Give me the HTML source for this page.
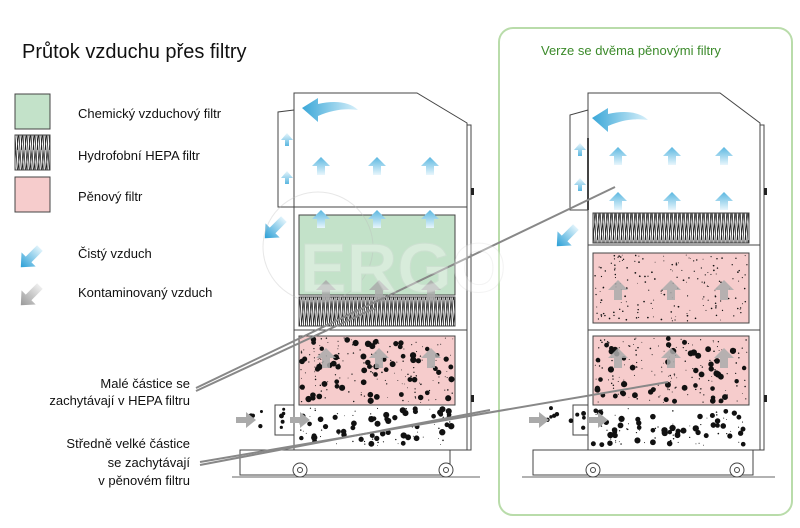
<!DOCTYPE html>
<html><head><meta charset="utf-8"><style>
body{margin:0;background:#fff;}
svg text{font-family:"Liberation Sans","DejaVu Sans",sans-serif;}
</style></head><body>
<svg id="s" width="800" height="523" viewBox="0 0 800 523" xmlns="http://www.w3.org/2000/svg">
<defs>
<pattern id="hepa" width="4" height="30" patternUnits="userSpaceOnUse">
<rect width="4" height="30" fill="#fff"/>
<path d="M0 0 L2 30 M2 0 L4 30 M4 0 L1 30" stroke="#222" stroke-width="0.8"/>
</pattern>
<linearGradient id="blue" x1="0" y1="0" x2="1" y2="0"><stop offset="0" stop-color="#3aa7d8"/><stop offset="1" stop-color="#d8f0fa"/></linearGradient>
<linearGradient id="blueV" x1="0" y1="0" x2="0" y2="1"><stop offset="0" stop-color="#5ab7e0"/><stop offset="1" stop-color="#e8f6fc"/></linearGradient>
<linearGradient id="tipB" x1="1" y1="0" x2="0" y2="0"><stop offset="0" stop-color="#2a9fd6"/><stop offset="1" stop-color="#e0f3fb"/></linearGradient>
<linearGradient id="tipG" x1="1" y1="0" x2="0" y2="0"><stop offset="0" stop-color="#999"/><stop offset="1" stop-color="#eee"/></linearGradient>
<g id="upB"><path d="M0 -9 L9 0 L4 0 L4 9 L-4 9 L-4 0 L-9 0 Z" fill="url(#blueV)"/></g>
<g id="upG"><path d="M0 -10 L10 0 L4 0 L4 10 L-4 10 L-4 0 L-10 0 Z" fill="#aaa" opacity="0.85"/></g>
<g id="rtG"><path d="M10 0 L0 -8 L0 -3 L-10 -3 L-10 3 L0 3 L0 8 Z" fill="#aaa"/></g>
<g id="dnB"><path d="M0 7 L6 0 L2 0 L2 -6 L-2 -6 L-2 0 L-6 0 Z" fill="url(#blueV)" transform="rotate(180)"/></g>
<g id="diagB"><path d="M13 0 L2 -10 L2 -4 L-14 -4 L-14 4 L2 4 L2 10 Z" fill="url(#tipB)"/></g>
<g id="diagG"><path d="M13 0 L2 -10 L2 -4 L-14 -4 L-14 4 L2 4 L2 10 Z" fill="url(#tipG)"/></g>
</defs>

<text x="22" y="58" font-size="20" fill="#111">Průtok vzduchu přes filtry</text>

<rect x="15" y="94" width="35" height="35" fill="#c3e2c9" stroke="#444"/>
<rect x="15" y="135" width="35" height="35" fill="url(#hepa)" stroke="#444"/>
<rect x="15" y="177" width="35" height="35" fill="#f6cccc" stroke="#444"/>
<text x="78" y="118" font-size="13" fill="#111">Chemický vzduchový filtr</text>
<text x="78" y="160" font-size="13" fill="#111">Hydrofobní HEPA filtr</text>
<text x="78" y="201" font-size="13" fill="#111">Pěnový filtr</text>
<text x="78" y="258" font-size="13" fill="#111">Čistý vzduch</text>
<text x="78" y="297" font-size="13" fill="#111">Kontaminovaný vzduch</text>
<use href="#diagB" transform="translate(30,258) rotate(135)"/>
<use href="#diagG" transform="translate(30,296) rotate(135)"/>

<g font-size="13" fill="#111" text-anchor="end">
<text x="190" y="388">Malé částice se</text>
<text x="190" y="405">zachytávají v HEPA filtru</text>
<text x="190" y="448">Středně velké částice</text>
<text x="190" y="467">se zachytávají</text>
<text x="190" y="485">v pěnovém filtru</text>
</g>

<rect x="499" y="28" width="293" height="487" rx="14" fill="none" stroke="#b9dcaa" stroke-width="2"/>
<text x="541" y="55" font-size="13" fill="#3b8a2a">Verze se dvěma pěnovými filtry</text>

<!-- LEFT UNIT -->
<g stroke="#444" stroke-width="1" fill="none">
<path d="M294 93 L417 93 L467 123 L467 450 L294 450 Z" fill="#fff"/>
<rect x="467" y="125" width="4" height="325" fill="#fff"/>
<path d="M294 110 L278 112 L278 207 L294 207"/>
<line x1="294" y1="207" x2="467" y2="207"/>
<rect x="299" y="215" width="156" height="80" fill="#c3e2c9"/>
<rect x="299" y="297" width="156" height="29" fill="url(#hepa)"/>
<line x1="294" y1="330" x2="467" y2="330"/>
<rect x="299" y="336" width="156" height="69" fill="#f6cccc"/>
<rect x="275" y="405" width="19" height="30" fill="#fff"/>
<rect x="240" y="450" width="210" height="25"/>
<line x1="232" y1="477" x2="480" y2="477" stroke="#666"/>
</g>
<rect x="471" y="188" width="3" height="7" fill="#222"/>
<rect x="471" y="395" width="3" height="7" fill="#222"/>
<g stroke="#444" fill="#fff"><circle cx="300" cy="470" r="7"/><circle cx="300" cy="470" r="2.5"/><circle cx="446" cy="470" r="7"/><circle cx="446" cy="470" r="2.5"/></g>

<!-- RIGHT UNIT -->
<g stroke="#444" stroke-width="1" fill="none">
<path d="M588 93 L720 93 L760 123 L760 450 L588 450 Z" fill="#fff"/>
<rect x="760" y="125" width="4" height="325" fill="#fff"/>
<path d="M588 110 L570 115 L570 210 L588 210"/>
<line x1="588" y1="138" x2="588" y2="210" stroke-width="2"/>
<rect x="593" y="213" width="156" height="30" fill="url(#hepa)"/>
<line x1="588" y1="245" x2="760" y2="245"/>
<rect x="593" y="253" width="156" height="70" fill="#f6cccc"/>
<line x1="588" y1="330" x2="760" y2="330"/>
<rect x="593" y="336" width="156" height="69" fill="#f6cccc"/>
<rect x="573" y="405" width="15" height="30" fill="#fff"/>
<rect x="533" y="450" width="220" height="25"/>
<line x1="522" y1="477" x2="775" y2="477" stroke="#666"/>
</g>
<rect x="764" y="188" width="3" height="7" fill="#222"/>
<rect x="764" y="395" width="3" height="7" fill="#222"/>
<g stroke="#444" fill="#fff"><circle cx="593" cy="470" r="7"/><circle cx="593" cy="470" r="2.5"/><circle cx="737" cy="470" r="7"/><circle cx="737" cy="470" r="2.5"/></g>

<g id="dots"></g>

<!-- arrows -->
<path d="M302 108 L318 98 L318 104 C335 100 350 102 358 110 C345 108 332 110 318 116 L318 122 Z" fill="url(#blue)"/>
<path d="M592 118 L608 108 L608 114 C625 110 640 112 648 120 C635 118 622 120 608 126 L608 132 Z" fill="url(#blue)"/>
<use href="#upB" x="321" y="166"/><use href="#upB" x="377" y="166"/><use href="#upB" x="430" y="166"/>
<use href="#upB" x="321" y="219"/><use href="#upB" x="377" y="219"/><use href="#upB" x="430" y="219"/>
<use href="#upB" x="618" y="156"/><use href="#upB" x="672" y="156"/><use href="#upB" x="724" y="156"/>
<use href="#upB" x="618" y="201"/><use href="#upB" x="672" y="201"/><use href="#upB" x="724" y="201"/>
<use href="#dnB" x="287" y="140"/><use href="#dnB" x="287" y="178"/>
<use href="#dnB" x="580" y="150"/><use href="#dnB" x="580" y="185"/>
<use href="#diagB" transform="translate(274,229) rotate(135)"/>
<use href="#diagB" transform="translate(566,237) rotate(135)"/>
<use href="#upG" x="326" y="290"/><use href="#upG" x="379" y="290"/><use href="#upG" x="431" y="290"/>
<use href="#upG" x="326" y="358"/><use href="#upG" x="379" y="358"/><use href="#upG" x="431" y="358"/>
<use href="#upG" x="618" y="290"/><use href="#upG" x="671" y="290"/><use href="#upG" x="724" y="290"/>
<use href="#upG" x="618" y="358"/><use href="#upG" x="671" y="358"/><use href="#upG" x="724" y="358"/>
<use href="#rtG" x="246" y="420"/><use href="#rtG" x="300" y="420"/>
<use href="#rtG" x="539" y="420"/><use href="#rtG" x="598" y="420"/>

<!-- leader lines -->
<g stroke="#888" stroke-width="2">
<line x1="196" y1="388" x2="615" y2="187"/>
<line x1="196" y1="391" x2="375" y2="308"/>
<line x1="200" y1="462" x2="668" y2="382"/>
<line x1="200" y1="465" x2="490" y2="410"/>
</g>

<!-- watermark -->
<g opacity="0.35">
<circle cx="318" cy="247" r="55" fill="none" stroke="#bbb"/>
<text x="300" y="292" font-size="70" font-weight="bold" fill="#fff" stroke="#ddd">ERGO</text>
</g>
</svg>
<script>
(function(){
var g=document.getElementById('dots'),s=7;
function r(){s=(s*9301+49297)%233280;return s/233280;}
function dots(x,y,w,h,n,rmin,rmax){
for(var i=0;i<n;i++){var c=document.createElementNS('http://www.w3.org/2000/svg','circle');
c.setAttribute('cx',x+r()*w);c.setAttribute('cy',y+r()*h);c.setAttribute('r',rmin+r()*(rmax-rmin));c.setAttribute('fill','#111');g.appendChild(c);}}
dots(301,338,152,65,60,2.2,3.2);dots(301,338,152,65,150,0.4,0.8);
dots(299,408,154,38,45,2.2,3.2);dots(299,408,154,38,50,0.4,0.8);
dots(595,338,152,65,50,2.2,3.2);dots(595,338,152,65,150,0.4,0.8);
dots(595,255,152,66,180,0.4,0.9);
dots(593,408,154,38,45,2.2,3.2);dots(593,408,154,38,50,0.4,0.8);
dots(250,408,40,22,10,1.5,2.5);dots(545,408,40,22,10,1.5,2.5);
})();
</script>
</body></html>
